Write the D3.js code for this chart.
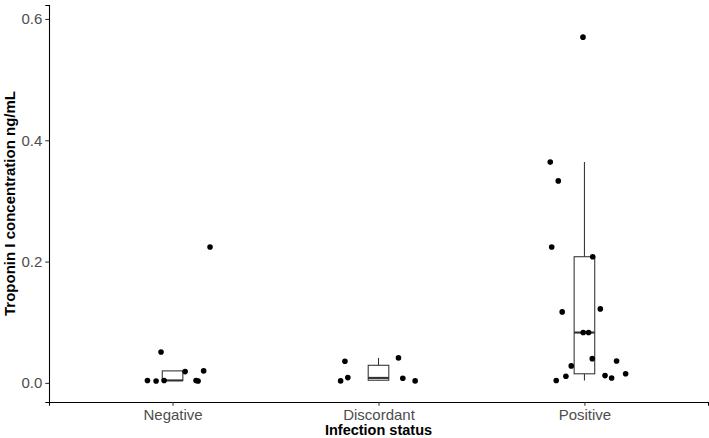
<!DOCTYPE html>
<html>
<head>
<meta charset="utf-8">
<script src="https://cdn.jsdelivr.net/npm/d3@7"></script>
<style>
  body { margin: 0; background: #fff; }
  svg text { font-family: "Liberation Sans", Arial, sans-serif; }
</style>
</head>
<body>
<div id="chart"></div>
<script>
// categories and values
const groups = ["Negative", "Discordant", "Positive"];

const negativeValues = [0.051, 0.004, 0.003, 0.004, 0.0186, 0.004, 0.003, 0.0198, 0.224];
const negativeJitter = [-0.056, -0.122, -0.080, -0.041, 0.061, 0.114, 0.124, 0.151, 0.182];

const discordantValues = [0.0358, 0.0033, 0.0087, 0.0412, 0.0077, 0.0033];
const discordantJitter = [-0.163, -0.184, -0.149, 0.097, 0.118, 0.178];

const positiveValues = [0.570, 0.364, 0.333, 0.224, 0.208, 0.122, 0.117, 0.083, 0.083,
                        0.040, 0.036, 0.028, 0.015, 0.012, 0.011, 0.008, 0.004];
const positiveJitter = [-0.007, -0.166, -0.127, -0.159, 0.040, 0.077, -0.108, -0.006, 0.020,
                        0.038, 0.156, -0.064, 0.200, 0.100, -0.090, 0.132, -0.137];

const yTicks = [0.0, 0.2, 0.4, 0.6];

const seriesValues = [negativeValues, discordantValues, positiveValues];
const seriesJitter = [negativeJitter, discordantJitter, positiveJitter];

const width = 709;
const height = 438;
const margin = { top: 5, right: 1, bottom: 36, left: 49 };

const svg = d3.select("#chart").append("svg")
    .attr("width", width)
    .attr("height", height);

// discrete x: categories at 1..3, ggplot-style 0.6 expansion each side
const x = d3.scaleLinear()
    .domain([0.4, 3.6])
    .range([margin.left, width - margin.right]);

const y = d3.scaleLinear()
    .domain([-0.0315, 0.623])
    .range([height - margin.bottom, margin.top]);

// box statistics (R type-7 quantiles)
function boxStats(values) {
    const s = values.slice().sort(d3.ascending);
    const q1 = d3.quantile(s, 0.25);
    const med = d3.quantile(s, 0.5);
    const q3 = d3.quantile(s, 0.75);
    const iqr = q3 - q1;
    const lo = d3.min(s.filter(v => v >= q1 - 1.5 * iqr));
    const hi = d3.max(s.filter(v => v <= q3 + 1.5 * iqr));
    return { q1, med, q3, lo, hi };
}

const boxWidth = 0.1;
const boxes = svg.append("g").attr("class", "boxes");

groups.forEach((g, i) => {
    const st = boxStats(seriesValues[i]);
    const cx = x(i + 1);
    const bx0 = x(i + 1 - boxWidth / 2);
    const bx1 = x(i + 1 + boxWidth / 2);
    const b = boxes.append("g");
    b.append("line")
        .attr("x1", cx).attr("x2", cx)
        .attr("y1", y(st.q3)).attr("y2", y(st.hi))
        .attr("stroke", "#333").attr("stroke-width", 1.07);
    b.append("line")
        .attr("x1", cx).attr("x2", cx)
        .attr("y1", y(st.q1)).attr("y2", y(st.lo))
        .attr("stroke", "#333").attr("stroke-width", 1.07);
    b.append("rect")
        .attr("x", bx0).attr("width", bx1 - bx0)
        .attr("y", y(st.q3)).attr("height", y(st.q1) - y(st.q3))
        .attr("fill", "#fff")
        .attr("stroke", "#333").attr("stroke-width", 1.07);
    b.append("line")
        .attr("x1", bx0).attr("x2", bx1)
        .attr("y1", y(st.med)).attr("y2", y(st.med))
        .attr("stroke", "#333").attr("stroke-width", 2.1);
});

// jittered points
const points = [];
groups.forEach((g, i) => {
    seriesValues[i].forEach((v, j) => {
        points.push({ group: i + 1, value: v, jitter: seriesJitter[i][j] });
    });
});

svg.append("g")
    .attr("class", "points")
    .selectAll("circle")
    .data(points)
    .enter().append("circle")
    .attr("cx", d => x(d.group + d.jitter))
    .attr("cy", d => y(d.value))
    .attr("r", 2.8)
    .attr("fill", "#000");

// axes
const xAxis = d3.axisBottom(x)
    .tickValues([1, 2, 3])
    .tickFormat(d => groups[d - 1])
    .tickSizeOuter(0)
    .tickSize(3.7)
    .tickPadding(3.2);

const yAxis = d3.axisLeft(y)
    .tickValues(yTicks)
    .tickFormat(d3.format(".1f"))
    .tickSizeOuter(0)
    .tickSize(3.7)
    .tickPadding(3);

const gx = svg.append("g")
    .attr("transform", `translate(0,${height - margin.bottom})`)
    .call(xAxis);

const gy = svg.append("g")
    .attr("transform", `translate(${margin.left},0)`)
    .call(yAxis);

[gx, gy].forEach(g => {
    g.select(".domain").attr("stroke", "#000").attr("stroke-width", 1.07);
    g.selectAll(".tick line").attr("stroke", "#333").attr("stroke-width", 1.07);
    g.selectAll(".tick text")
        .attr("fill", "#4d4d4d")
        .style("font-size", "15px")
        .style("font-family", "'Liberation Sans', Arial, sans-serif");
});

// axis titles
svg.append("text")
    .attr("x", (margin.left + width - margin.right) / 2)
    .attr("y", 435)
    .attr("text-anchor", "middle")
    .style("font-size", "14.5px")
    .style("font-weight", "bold")
    .attr("fill", "#000")
    .text("Infection status");

svg.append("text")
    .attr("transform", `translate(15,${(margin.top + height - margin.bottom) / 2}) rotate(-90)`)
    .attr("text-anchor", "middle")
    .style("font-size", "15px")
    .style("font-weight", "bold")
    .attr("fill", "#000")
    .text("Troponin I concentration ng/mL");
</script>
</body>
</html>
